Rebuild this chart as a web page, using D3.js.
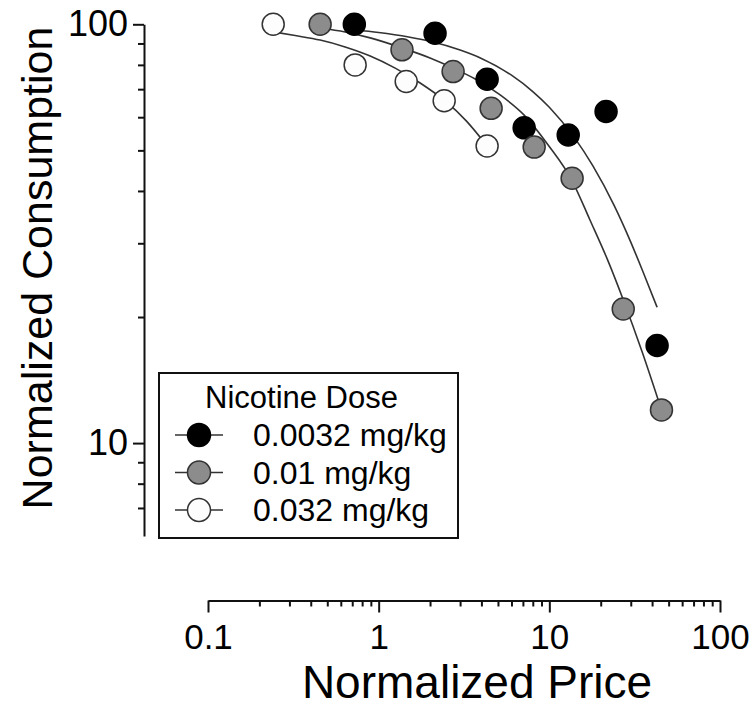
<!DOCTYPE html>
<html>
<head>
<meta charset="utf-8">
<script src="https://cdn.jsdelivr.net/npm/d3@7"></script>
<style>
  body { margin: 0; background: #fff; }
  svg { display: block; font-family: "Liberation Sans", Arial, sans-serif; }
</style>
</head>
<body>
<svg id="chart" width="756" height="708"></svg>
<script>
// doses, in legend order
var doses = ["0.0032 mg/kg", "0.01 mg/kg", "0.032 mg/kg"];
var fills = ["#000000", "#8c8c8c", "#fdfdfd"];
var strokes = ["#000000", "#333333", "#333333"];

// observed points (normalized price, normalized consumption)
var price_0032 = [0.72, 2.14, 4.32, 7.12, 12.9, 21.5, 42.8];
var cons_0032 = [100, 95.2, 73.9, 56.6, 54.4, 61.9, 17.1];
var price_01 = [0.454, 1.37, 2.73, 4.56, 8.15, 13.6, 27.1, 45.4];
var cons_01 = [100, 86.9, 77.1, 63.0, 50.9, 42.9, 20.9, 12.0];
var price_032 = [0.241, 0.728, 1.45, 2.42, 4.32];
var cons_032 = [100, 80.0, 73.0, 65.7, 51.2];

// fitted demand curves
var fitPrice_0032 = [0.72, 1, 1.5, 2, 3, 4, 6, 8, 10, 14, 18, 24, 30, 36, 42.8];
var fitCons_0032 = [96.9, 95.6, 93.3, 91.1, 86.8, 82.9, 75.6, 69.1, 63.4, 53.7, 45.9, 36.9, 30.2, 25.2, 21.1];
var fitPrice_01 = [0.454, 0.636, 0.892, 1.373, 2.0, 2.73, 3.68, 5.15, 7.12, 9.84, 13.6, 17.3, 22.1, 27.1, 35.0, 45.4];
var fitCons_01 = [98.0, 95.9, 92.8, 87.8, 83.1, 78.6, 74.0, 67.8, 60.7, 51.5, 42.3, 34.1, 27.2, 22.0, 16.5, 12.0];
var fitPrice_032 = [0.241, 0.324, 0.454, 0.636, 0.892, 1.25, 1.75, 2.45, 3.26, 4.32];
var fitCons_032 = [95.9, 94.0, 91.7, 88.3, 84.0, 78.6, 72.4, 65.6, 58.8, 51.2];

// axis ticks
var xMajor = [0.1, 1, 10, 100];
var xMinor = [0.2, 0.3, 0.4, 0.5, 0.6, 0.7, 0.8, 0.9, 2, 3, 4, 5, 6, 7, 8, 9, 20, 30, 40, 50, 60, 70, 80, 90];
var yMajor = [10, 100];
var yMinor = [7, 8, 9, 20, 30, 40, 50, 60, 70, 80, 90];

var svg = d3.select("#chart");

var x = d3.scaleLog().domain([0.1, 100]).range([208, 720]);
var y = d3.scaleLog().domain([6, 100]).range([536, 24.3]);

function zip(a, b){
    return a.map(function(v, i){ return [v, b[i]]; });
}

var series = [
    {pts: zip(price_0032, cons_0032), fit: zip(fitPrice_0032, fitCons_0032)},
    {pts: zip(price_01, cons_01), fit: zip(fitPrice_01, fitCons_01)},
    {pts: zip(price_032, cons_032), fit: zip(fitPrice_032, fitCons_032)}
];

// axes
function styleAxis(g){
    g.select(".domain").attr("stroke", "#111").attr("stroke-width", 2);
    g.selectAll(".tick line").attr("stroke", "#111").attr("stroke-width", 2);
    g.selectAll("text").attr("fill", "#000");
}

var xAxis = svg.append("g").attr("transform", "translate(0,600.5)")
    .call(d3.axisBottom(x).tickValues(xMajor).tickSize(12).tickSizeOuter(0)
        .tickPadding(12).tickFormat(d3.format("")));
xAxis.attr("font-size", 35).attr("font-family", null);
styleAxis(xAxis);

var xAxisMinor = svg.append("g").attr("transform", "translate(0,600.5)")
    .call(d3.axisBottom(x).tickValues(xMinor).tickSize(6).tickFormat(""));
xAxisMinor.select(".domain").remove();
styleAxis(xAxisMinor);

var yAxis = svg.append("g").attr("transform", "translate(144,0)")
    .call(d3.axisLeft(y).tickValues(yMajor).tickSize(11).tickSizeOuter(0)
        .tickPadding(5).tickFormat(d3.format("")));
yAxis.attr("font-size", 36).attr("font-family", null);
styleAxis(yAxis);

var yAxisMinor = svg.append("g").attr("transform", "translate(144,0)")
    .call(d3.axisLeft(y).tickValues(yMinor).tickSize(6).tickFormat(""));
yAxisMinor.select(".domain").remove();
styleAxis(yAxisMinor);

// axis titles
svg.append("text")
    .attr("transform", "translate(52,268) rotate(-90)")
    .attr("text-anchor", "middle")
    .attr("font-size", 43)
    .text("Normalized Consumption");

svg.append("text")
    .attr("x", 477).attr("y", 698)
    .attr("text-anchor", "middle")
    .attr("font-size", 46)
    .text("Normalized Price");

// fitted curves
var line = d3.line()
    .x(function(d){ return x(d[0]); })
    .y(function(d){ return y(d[1]); })
    .curve(d3.curveMonotoneX);

svg.append("g").selectAll("path")
    .data(series)
    .enter()
    .append("path")
    .attr("d", function(d){ return line(d.fit); })
    .attr("fill", "none")
    .attr("stroke", "#333")
    .attr("stroke-width", 1.6);

// data points
var r = 11;
series.forEach(function(s, i){
    svg.append("g").selectAll("circle")
        .data(s.pts)
        .enter()
        .append("circle")
        .attr("cx", function(d){ return x(d[0]); })
        .attr("cy", function(d){ return y(d[1]); })
        .attr("r", r)
        .attr("fill", fills[i])
        .attr("stroke", strokes[i])
        .attr("stroke-width", 1.5);
});

// legend
var lg = svg.append("g");
lg.append("rect")
    .attr("x", 159).attr("y", 373)
    .attr("width", 299).attr("height", 165)
    .attr("fill", "#fff")
    .attr("stroke", "#111")
    .attr("stroke-width", 2);
lg.append("text")
    .attr("x", 205).attr("y", 408)
    .attr("font-size", 31)
    .text("Nicotine Dose");

var rowY = [435, 472.5, 510];
var rows = lg.selectAll("g.row")
    .data(doses)
    .enter()
    .append("g")
    .attr("class", "row")
    .attr("transform", function(d, i){ return "translate(0," + rowY[i] + ")"; });
rows.append("line")
    .attr("x1", 175).attr("x2", 223)
    .attr("stroke", "#333")
    .attr("stroke-width", 1.5);
rows.append("circle")
    .attr("cx", 199).attr("r", 11.5)
    .attr("fill", function(d, i){ return fills[i]; })
    .attr("stroke", function(d, i){ return strokes[i]; })
    .attr("stroke-width", 1.5);
rows.append("text")
    .attr("x", 253).attr("y", 11)
    .attr("font-size", 32)
    .text(function(d){ return d; });
</script>
</body>
</html>
